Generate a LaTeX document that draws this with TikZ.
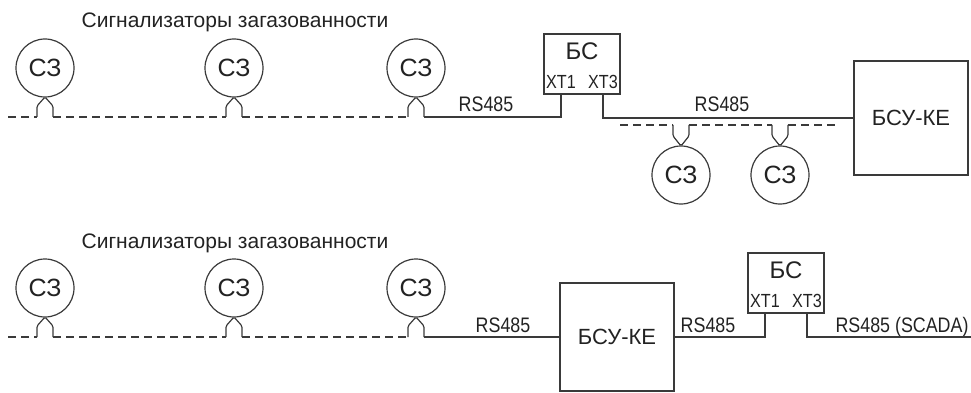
\documentclass[tikz,border=0pt]{standalone}
\usepackage{fontspec}
\setmainfont{Liberation Sans}
\newfontfamily\narrowfont[FakeStretch=0.85]{Liberation Sans}
\usepackage{xcolor}
\usepackage{tikz}
\usetikzlibrary{calc,positioning}

\definecolor{linegray}{HTML}{3A3A3A}
\definecolor{textgray}{HTML}{222222}

\begin{document}
\begin{tikzpicture}[
  x=1pt, y=-1pt,
  sensor/.style={circle, draw=linegray, line width=1.2pt, minimum size=58pt,
                 inner sep=0pt, outer sep=0pt, text=textgray,
                 font=\fontsize{25}{28}\selectfont},
  unitbox/.style={rectangle, draw=linegray, line width=1.2pt, inner sep=0pt,
                  outer sep=0pt, text=textgray},
  title/.style={anchor=base, text=textgray, font=\fontsize{21}{25}\selectfont},
  buslabel/.style={anchor=base, text=textgray, inner sep=0pt,
                   font=\narrowfont\fontsize{21}{24}\selectfont},
  xt/.style={text=textgray, inner sep=0pt,
             font=\narrowfont\fontsize{19}{22}\selectfont},
  wire/.style={draw=linegray, line width=1.2pt},
  bus/.style={wire, dash pattern=on 8pt off 5pt}
]
\useasboundingbox (0,0) rectangle (971,393);

% upper scheme
\node[title] (title1) at (235,28) {Сигнализаторы загазованности};
\node[sensor] (s1) at (45,68) {СЗ};
\node[sensor] (s2) at (234,68) {СЗ};
\node[sensor] (s3) at (416,68) {СЗ};
\node[sensor] (s7) at (681,175) {СЗ};
\node[sensor] (s8) at (780,175) {СЗ};

\node[unitbox, minimum width=76pt, minimum height=60pt] (bs1) at (582,64) {};
\node[text=textgray, font=\fontsize{24}{27}\selectfont] (bs1name) at ($(bs1.north)+(0,17)$) {БС};
\node[xt] (xt1a) at ($(bs1.south west)+(17,-12)$) {XT1};
\node[xt] (xt3a) at ($(bs1.south east)+(-17,-12)$) {XT3};

\node[unitbox, minimum width=114pt, minimum height=114pt,
      font=\fontsize{22}{25}\selectfont] (bsu1) at (911,118) {БСУ-КЕ};

\node[buslabel] (rs1) at (486,112) {RS485};
\node[buslabel] (rs2) at (722,112) {RS485};

% lower scheme
\node[title] (title2) at (235,248) {Сигнализаторы загазованности};
\node[sensor] (s4) at (45,288) {СЗ};
\node[sensor] (s5) at (234,288) {СЗ};
\node[sensor] (s6) at (416,288) {СЗ};

\node[unitbox, minimum width=114pt, minimum height=108pt,
      font=\fontsize{22}{25}\selectfont] (bsu2) at (617,337) {БСУ-КЕ};

\node[unitbox, minimum width=76pt, minimum height=60pt] (bs2) at (786,283) {};
\node[text=textgray, font=\fontsize{24}{27}\selectfont] (bs2name) at ($(bs2.north)+(0,17)$) {БС};
\node[xt] (xt1b) at ($(bs2.south west)+(17,-12)$) {XT1};
\node[xt] (xt3b) at ($(bs2.south east)+(-17,-12)$) {XT3};

\node[buslabel] (rs3) at (503,332) {RS485};
\node[buslabel] (rs4) at (708,332) {RS485};
\node[buslabel] (rs5) at (902,332) {RS485 (SCADA)};

\coordinate (busstart1) at (8,117);
\coordinate (busstart2) at (8,337);
\coordinate (busstart3) at (620,125);
\coordinate (busend3) at (838,125);
\coordinate (scadaend) at (971,337);

% sensor taps
\foreach \s in {s1,s2,s3,s4,s5,s6}
  \draw[wire, rounded corners=1.5pt] ($(\s.south)+(-8,20)$) -- ++(0,-11)
    -- (\s.south) -- ($(\s.south)+(8,9)$) -- ++(0,11);
\foreach \s in {s7,s8}
  \draw[wire, rounded corners=1.5pt] ($(\s.north)+(-8,-21)$) -- ++(0,11)
    -- (\s.north) -- ($(\s.north)+(8,-10)$) -- ++(0,-11);

% dashed sensor lines
\draw[bus] (busstart1) -- ($(s1.south)+(-8,20)$);
\draw[bus] ($(s1.south)+(8,20)$) -- ($(s2.south)+(-8,20)$);
\draw[bus] ($(s2.south)+(8,20)$) -- ($(s3.south)+(-8,20)$);
\draw[bus] (busstart2) -- ($(s4.south)+(-8,20)$);
\draw[bus] ($(s4.south)+(8,20)$) -- ($(s5.south)+(-8,20)$);
\draw[bus] ($(s5.south)+(8,20)$) -- ($(s6.south)+(-8,20)$);
\draw[bus] (busstart3) -- ($(s7.north)+(-8,-21)$);
\draw[bus] ($(s7.north)+(8,-21)$) -- ($(s8.north)+(-8,-21)$);
\draw[bus] ($(s8.north)+(8,-21)$) -- (busend3);

% RS485 wiring
\draw[wire] ($(s3.south)+(8,20)$) -| (xt1a |- bs1.south);
\draw[wire] (xt3a |- bs1.south) |- (bsu1.west);
\draw[wire] ($(s6.south)+(8,20)$) -- (bsu2.west);
\draw[wire] (bsu2.east) -| (xt1b |- bs2.south);
\draw[wire] (xt3b |- bs2.south) |- (scadaend);
\end{tikzpicture}
\end{document}
